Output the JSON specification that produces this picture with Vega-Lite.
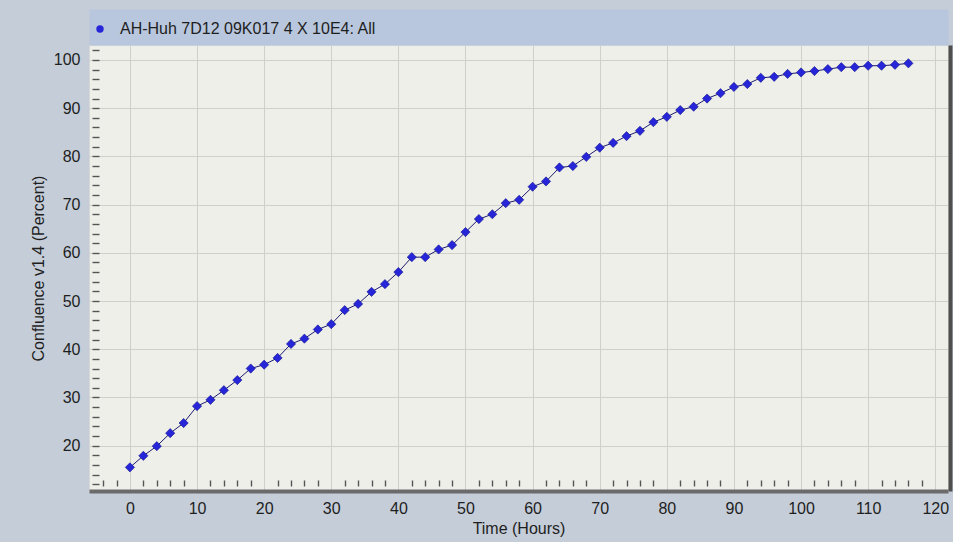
{
  "$schema": "https://vega.github.io/schema/vega-lite/v6.json",
  "width": 859,
  "height": 446,
  "autosize": {"type": "none"},
  "padding": {"left": 89, "top": 45, "right": 5, "bottom": 51},
  "background": "#c5cdd8",
  "config": {
    "view": {"fill": "#efefea", "stroke": "#d6d6d2"},
    "font": "Liberation Sans"
  },
  "data": {
    "values": [
      {"t": 0, "c": 15.5}, {"t": 2, "c": 17.9}, {"t": 4, "c": 19.9}, {"t": 6, "c": 22.6},
      {"t": 8, "c": 24.7}, {"t": 10, "c": 28.2}, {"t": 12, "c": 29.5}, {"t": 14, "c": 31.5},
      {"t": 16, "c": 33.6}, {"t": 18, "c": 36.0}, {"t": 20, "c": 36.8}, {"t": 22, "c": 38.2},
      {"t": 24, "c": 41.1}, {"t": 26, "c": 42.2}, {"t": 28, "c": 44.1}, {"t": 30, "c": 45.2},
      {"t": 32, "c": 48.1}, {"t": 34, "c": 49.4}, {"t": 36, "c": 51.9}, {"t": 38, "c": 53.5},
      {"t": 40, "c": 56.0}, {"t": 42, "c": 59.1}, {"t": 44, "c": 59.1}, {"t": 46, "c": 60.7},
      {"t": 48, "c": 61.6}, {"t": 50, "c": 64.3}, {"t": 52, "c": 67.0}, {"t": 54, "c": 68.0},
      {"t": 56, "c": 70.3}, {"t": 58, "c": 71.0}, {"t": 60, "c": 73.7}, {"t": 62, "c": 74.8},
      {"t": 64, "c": 77.7}, {"t": 66, "c": 78.0}, {"t": 68, "c": 79.9}, {"t": 70, "c": 81.8},
      {"t": 72, "c": 82.8}, {"t": 74, "c": 84.2}, {"t": 76, "c": 85.3}, {"t": 78, "c": 87.1},
      {"t": 80, "c": 88.2}, {"t": 82, "c": 89.6}, {"t": 84, "c": 90.3}, {"t": 86, "c": 92.0},
      {"t": 88, "c": 93.1}, {"t": 90, "c": 94.4}, {"t": 92, "c": 95.0}, {"t": 94, "c": 96.3},
      {"t": 96, "c": 96.5}, {"t": 98, "c": 97.1}, {"t": 100, "c": 97.4}, {"t": 102, "c": 97.7},
      {"t": 104, "c": 98.1}, {"t": 106, "c": 98.5}, {"t": 108, "c": 98.5}, {"t": 110, "c": 98.8},
      {"t": 112, "c": 98.8}, {"t": 114, "c": 99.0}, {"t": 116, "c": 99.3}
    ]
  },
  "layer": [
    {
      "mark": {"type": "line", "color": "#1c1c70", "strokeWidth": 1},
      "encoding": {
        "x": {
          "field": "t", "type": "quantitative",
          "scale": {"domain": [-6.1, 121.9], "nice": false, "zero": false},
          "axis": {
            "orient": "bottom", "title": "Time (Hours)",
            "values": [0, 10, 20, 30, 40, 50, 60, 70, 80, 90, 100, 110, 120],
            "grid": true, "gridColor": "#d0d0ca", "gridWidth": 1,
            "ticks": false, "labelPadding": 9, "labelFlush": false, "labelOverlap": false,
            "domain": true, "domainWidth": 4, "domainColor": "#6b6b6b",
            "labelFontSize": 16, "labelColor": "#1e1e1e",
            "titleFontSize": 16, "titleFontWeight": "normal", "titleColor": "#1e1e1e", "titlePadding": 4
          }
        },
        "y": {
          "field": "c", "type": "quantitative",
          "scale": {"domain": [10.6, 103.1], "nice": false, "zero": false},
          "axis": {
            "orient": "left", "title": "Confluence v1.4 (Percent)",
            "values": [20, 30, 40, 50, 60, 70, 80, 90, 100],
            "grid": true, "gridColor": "#d0d0ca", "gridWidth": 1,
            "ticks": false, "labelPadding": 9, "labelFlush": false, "labelOverlap": false,
            "domain": false,
            "labelFontSize": 16, "labelColor": "#1e1e1e",
            "titleFontSize": 16, "titleFontWeight": "normal", "titleColor": "#1e1e1e", "titlePadding": 7
          }
        }
      }
    },
    {
      "mark": {"type": "point", "shape": "diamond", "filled": true, "size": 85, "opacity": 1, "stroke": "#12128c", "strokeWidth": 0.6},
      "encoding": {
        "x": {
          "field": "t", "type": "quantitative",
          "axis": {
            "orient": "bottom", "title": null, "labels": false, "domain": false, "grid": false,
            "values": [-4, -2, 2, 4, 6, 8, 12, 14, 16, 18, 22, 24, 26, 28, 32, 34, 36, 38, 42, 44, 46, 48, 52, 54, 56, 58, 62, 64, 66, 68, 72, 74, 76, 78, 82, 84, 86, 88, 92, 94, 96, 98, 102, 104, 106, 108, 112, 114, 116, 118],
            "ticks": true, "tickSize": -6, "tickColor": "#555555", "tickWidth": 1.4, "offset": -5
          }
        },
        "y": {
          "field": "c", "type": "quantitative",
          "axis": {
            "orient": "left", "title": null, "labels": false, "domain": false, "grid": false,
            "values": [12, 14, 16, 18, 20, 22, 24, 26, 28, 30, 32, 34, 36, 38, 40, 42, 44, 46, 48, 50, 52, 54, 56, 58, 60, 62, 64, 66, 68, 70, 72, 74, 76, 78, 80, 82, 84, 86, 88, 90, 92, 94, 96, 98, 100, 102],
            "ticks": true, "tickSize": -7, "tickColor": "#555555", "tickWidth": 1.4, "offset": -3
          }
        },
        "color": {
          "datum": "AH-Huh 7D12 09K017 4 X 10E4: All",
          "type": "nominal",
          "scale": {"range": ["#2626d8"]},
          "legend": {
            "title": null, "orient": "none", "legendX": 3, "legendY": -24,
            "padding": 0, "symbolType": "circle", "symbolSize": 55, "labelFontSize": 16, "labelColor": "#1e1e1e",
            "labelOffset": 12, "labelLimit": 0, "symbolStrokeWidth": 0,
            "encode": {"symbols": {"enter": {"shape": {"value": "circle"}}, "update": {"shape": {"value": "circle"}, "fill": {"value": "#3030ee"}, "strokeWidth": {"value": 0}}}}
          }
        }
      }
    },
    {
      "mark": {"type": "line", "strokeOpacity": 0},
      "encoding": {
        "x": {
          "field": "t", "type": "quantitative",
          "axis": {
            "orient": "top", "title": null, "labels": false, "ticks": false, "grid": false,
            "domain": true, "domainWidth": 36, "domainColor": "#b8c7dd", "offset": 18
          }
        },
        "y": {
          "field": "c", "type": "quantitative",
          "axis": {
            "orient": "right", "title": null, "labels": false, "ticks": false, "grid": false,
            "domain": true, "domainWidth": 4, "domainColor": "#4f4f4f", "offset": 2
          }
        }
      }
    }
  ],
  "resolve": {"axis": {"x": "independent", "y": "independent"}}
}
